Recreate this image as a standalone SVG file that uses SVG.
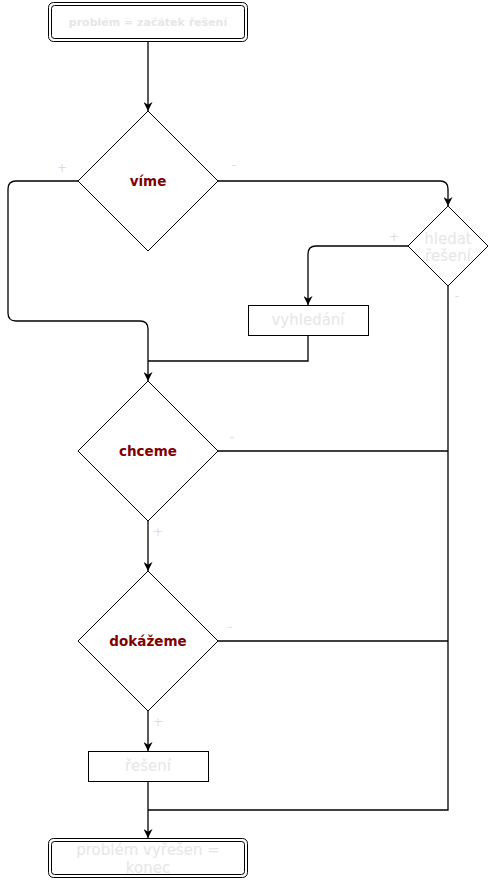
<svg xmlns="http://www.w3.org/2000/svg" width="490" height="883" viewBox="0 0 490 883">
<style>
.bg{fill:#fff}
.term{fill:#fff;stroke:#000;stroke-width:1}
.shape{fill:#fff;stroke:#000;stroke-width:1}
.edge{fill:none;stroke:#000;stroke-width:1.3}
.lt{font-family:"DejaVu Sans",sans-serif;font-size:15px;fill:#e6e6e6;text-anchor:middle;dominant-baseline:central}
.tt{font-family:"DejaVu Sans",sans-serif;font-size:11px;font-weight:bold;fill:#e6e6e6;text-anchor:middle;dominant-baseline:central}
.dt{font-family:"DejaVu Sans",sans-serif;font-size:13.5px;font-weight:bold;fill:#800000;text-anchor:middle;dominant-baseline:central}
.lab{font-family:"DejaVu Sans",sans-serif;font-size:12px;fill:#dcdcdc;text-anchor:middle;dominant-baseline:central}
</style>
<defs>
<marker id="arr" viewBox="0 0 10 10" refX="10" refY="5" markerWidth="9" markerHeight="9" markerUnits="userSpaceOnUse" orient="auto">
<path d="M0,0 L10,5 L0,10 L3,5 z" fill="#000"/>
</marker>
</defs>
<rect class="bg" x="0" y="0" width="490" height="883"/>
<g id="connectors">
<path class="edge" d="M148,41 V111" marker-end="url(#arr)"/>
<path class="edge" d="M78,181 H16 Q8,181 8,189 V313 Q8,321 16,321 H140 Q148,321 148,329 V381" marker-end="url(#arr)"/>
<path class="edge" d="M218,181 H440 Q448,181 448,189 V206" marker-end="url(#arr)"/>
<path class="edge" d="M408,246 H316 Q308,246 308,254 V305" marker-end="url(#arr)"/>
<path class="edge" d="M308,335 V361 H148"/>
<path class="edge" d="M448,286 V810 H148"/>
<path class="edge" d="M218,451 H448"/>
<path class="edge" d="M218,641 H448"/>
<path class="edge" d="M148,521 V571" marker-end="url(#arr)"/>
<path class="edge" d="M148,711 V751" marker-end="url(#arr)"/>
<path class="edge" d="M148,781 V838" marker-end="url(#arr)"/>
<text class="lab" x="62" y="168">+</text>
<text class="lab" x="234" y="165">-</text>
<text class="lab" x="394" y="237">+</text>
<text class="lab" x="457" y="296">-</text>
<text class="lab" x="232" y="437">-</text>
<text class="lab" x="158" y="532">+</text>
<text class="lab" x="230" y="627">-</text>
<text class="lab" x="158" y="722">+</text>
</g>
<g id="start">
<rect class="term" x="48.5" y="2.5" width="199" height="39" rx="5"/>
<rect class="term" x="51.5" y="5.5" width="193" height="33" rx="3"/>
<text class="tt" x="148" y="22">problém = začátek řešení</text>
</g>
<g id="vime">
<polygon class="shape" points="148,111 218,181 148,251 78,181"/>
<text class="dt" x="148" y="181">víme</text>
</g>
<g id="hledat">
<polygon class="shape" points="448,206 488,246 448,286 408,246"/>
<text class="lt" x="448" y="239">hledat</text>
<text class="lt" x="448" y="256">řešení</text>
</g>
<g id="vyhledani">
<rect class="shape" x="248.5" y="305.5" width="120" height="30"/>
<text class="lt" x="308" y="320">vyhledání</text>
</g>
<g id="chceme">
<polygon class="shape" points="148,381 218,451 148,521 78,451"/>
<text class="dt" x="148" y="451">chceme</text>
</g>
<g id="dokazeme">
<polygon class="shape" points="148,571 218,641 148,711 78,641"/>
<text class="dt" x="148" y="641">dokážeme</text>
</g>
<g id="reseni">
<rect class="shape" x="88.5" y="751.5" width="120" height="30"/>
<text class="lt" x="148" y="766">řešení</text>
</g>
<g id="end">
<rect class="term" x="48.5" y="838.5" width="199" height="39" rx="5"/>
<rect class="term" x="51.5" y="841.5" width="193" height="33" rx="3"/>
<text class="lt" x="148" y="850">problém vyřešen =</text>
<text class="lt" x="148" y="868">konec</text>
</g>
</svg>
